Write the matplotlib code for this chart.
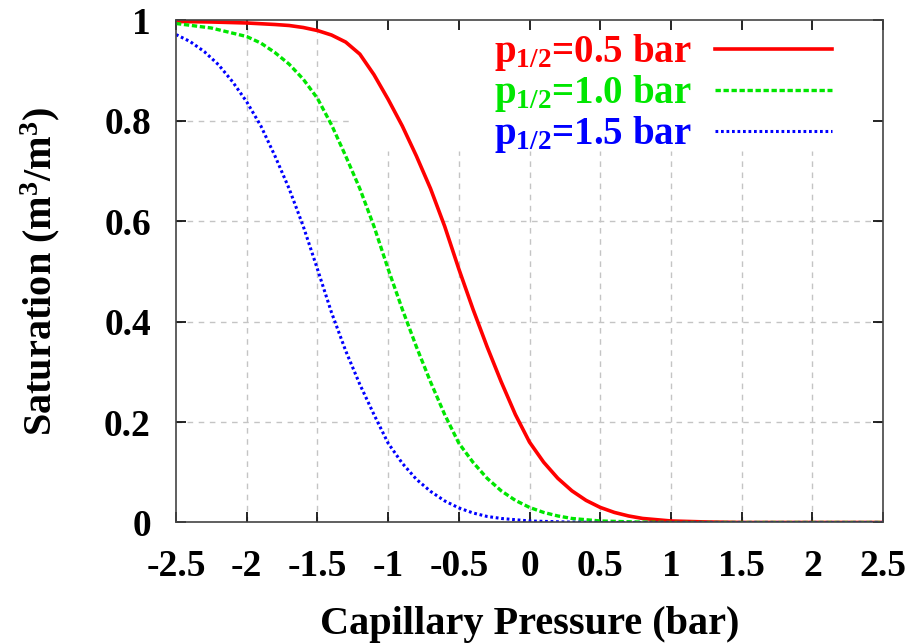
import numpy as np
import matplotlib
matplotlib.use("Agg")
import matplotlib.pyplot as plt

plt.rcParams['font.family'] = ['Liberation Serif', 'DejaVu Serif']
plt.rcParams['font.weight'] = 'bold'
plt.rcParams['axes.labelweight'] = 'bold'
plt.rcParams['mathtext.fontset'] = 'custom'
plt.rcParams['mathtext.rm'] = 'Liberation Serif:bold'
plt.rcParams['mathtext.it'] = 'Liberation Serif:bold'
plt.rcParams['mathtext.bf'] = 'Liberation Serif:bold'

# values
x_red = [-2.5, -2.25, -2.0, -1.8, -1.7, -1.6, -1.5, -1.4, -1.3, -1.2, -1.1, -1.0, -0.9, -0.8,
         -0.7, -0.6, -0.5, -0.4, -0.3, -0.2, -0.1, 0.0, 0.1, 0.2, 0.3, 0.4, 0.5,
         0.6, 0.7, 0.8, 1.0, 1.25, 1.5, 2.0, 2.5]
s_red = [0.998, 0.997, 0.995, 0.992, 0.990, 0.986, 0.980, 0.971, 0.957, 0.933, 0.892, 0.843, 0.790, 0.730,
         0.665, 0.590, 0.505, 0.425, 0.350, 0.280, 0.215, 0.160, 0.120, 0.088, 0.063, 0.044, 0.030,
         0.020, 0.013, 0.008, 0.003, 0.001, 0.0, 0.0, 0.0]

x_green = [-2.5, -2.25, -2.0, -1.9, -1.8, -1.7, -1.6, -1.5, -1.4, -1.3, -1.2, -1.1,
           -1.0, -0.9, -0.8, -0.7, -0.6, -0.5, -0.4, -0.3, -0.2, -0.1, 0.0, 0.1,
           0.2, 0.3, 0.5, 0.75, 1.0, 1.5, 2.0, 2.5]
s_green = [0.994, 0.985, 0.968, 0.955, 0.936, 0.913, 0.883, 0.845, 0.792, 0.730, 0.665, 0.590,
           0.505, 0.425, 0.350, 0.280, 0.215, 0.158, 0.120, 0.088, 0.063, 0.044, 0.030, 0.020,
           0.013, 0.008, 0.003, 0.001, 0.0, 0.0, 0.0, 0.0]

x_blue = [-2.5, -2.4, -2.3, -2.2, -2.1, -2.0, -1.9, -1.8, -1.7, -1.6, -1.5, -1.4,
          -1.3, -1.2, -1.1, -1.0, -0.9, -0.8, -0.7, -0.6, -0.5, -0.4, -0.3, -0.2,
          0.0, 0.25, 0.5, 1.0, 1.5, 2.0, 2.5]
s_blue = [0.972, 0.958, 0.938, 0.912, 0.878, 0.838, 0.790, 0.730, 0.665, 0.590, 0.505, 0.418,
          0.342, 0.275, 0.215, 0.158, 0.118, 0.086, 0.062, 0.043, 0.029, 0.019, 0.012, 0.008,
          0.003, 0.001, 0.0, 0.0, 0.0, 0.0, 0.0]

labels = [r'$\mathrm{p_{1/2}}$=0.5 bar', r'$\mathrm{p_{1/2}}$=1.0 bar', r'$\mathrm{p_{1/2}}$=1.5 bar']

xticks = [-2.5, -2, -1.5, -1, -0.5, 0, 0.5, 1, 1.5, 2, 2.5]
xticklabels = ['-2.5', '-2', '-1.5', '-1', '-0.5', '0', '0.5', '1', '1.5', '2', '2.5']
yticks = [0, 0.2, 0.4, 0.6, 0.8, 1]
yticklabels = ['0', '0.2', '0.4', '0.6', '0.8', '1']

fig = plt.figure(figsize=(9.1, 6.44), dpi=100)
ax = fig.add_axes([0.1934, 0.1887, 0.777, 0.7795])

# grid, broken where the key sits (gnuplot style)
gcol = '#c4c4c4'
gls = (0, (4, 4))
for xv in xticks[1:-1]:
    top = 1.0 if xv < -1.2 else 0.74
    ax.axvline(xv, ymax=top, color=gcol, ls=gls, lw=1, zorder=0.5)
for yv in yticks[1:-1]:
    right = 1.0 if yv < 0.74 else 0.245
    ax.axhline(yv, xmax=right, color=gcol, ls=gls, lw=1, zorder=0.5)

ax.plot(x_red, s_red, color='#ff0000', lw=2.6, label=labels[0])
ax.plot(x_green, s_green, color='#00e600', lw=2.4, ls=(0, (1.6, 0.8)), label=labels[1])
ax.plot(x_blue, s_blue, color='#0000ff', lw=2.2, ls=(0, (0.9, 0.9)), label=labels[2])

ax.set_xlim(-2.5, 2.5)
ax.set_ylim(0, 1)
ax.set_xticks(xticks)
ax.set_xticklabels(xticklabels)
ax.set_yticks(yticks)
ax.set_yticklabels(yticklabels)
ax.tick_params(direction='in', length=7, width=1.2, top=True, right=True,
               labelsize=27, colors='black')
ax.tick_params(axis='x', pad=19)
ax.tick_params(axis='y', pad=18)
for sp in ax.spines.values():
    sp.set_color('#444444')
    sp.set_linewidth(1.2)

ax.set_xlabel('Capillary Pressure (bar)', fontsize=29, labelpad=16)
ax.set_ylabel(r'Saturation (m$^3$/m$^3$)', fontsize=29, labelpad=30)

leg = ax.legend(loc='upper right', frameon=False, markerfirst=False,
                labelcolor='linecolor', fontsize=28, handlelength=3.0,
                handletextpad=0.6, labelspacing=0.0, borderaxespad=0.1,
                bbox_to_anchor=(0.955, 1.015))

fig.savefig('out.png', dpi=100)
